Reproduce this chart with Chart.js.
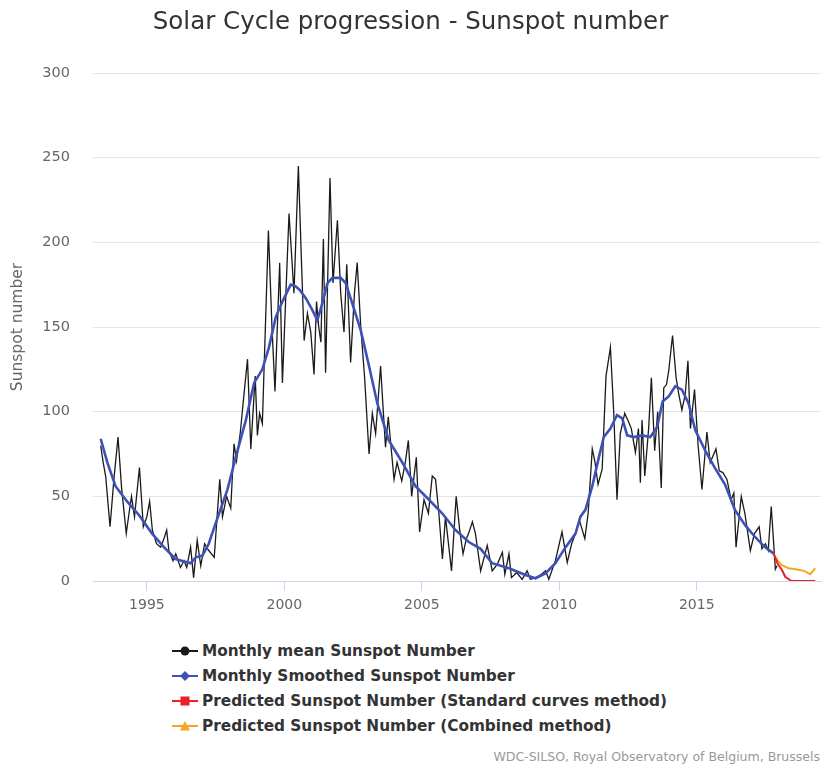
<!DOCTYPE html>
<html>
<head>
<meta charset="utf-8">
<title>Solar Cycle progression</title>
<script src="https://cdn.jsdelivr.net/npm/chart.js@4.4.1/dist/chart.umd.min.js"></script>
<style>
  html, body { margin: 0; padding: 0; background: #ffffff; }
  #wrap { position: relative; width: 822px; height: 765px; overflow: hidden; }
  #chart { position: absolute; left: 0; top: 0; }
  .legend { position: absolute; left: 172px; top: 640px; font-family: "DejaVu Sans", sans-serif; font-weight: bold; font-size: 15.3px; color: #333333; }
  .legend .row { height: 25px; line-height: 22px; white-space: nowrap; }
  .legend svg { vertical-align: middle; margin-right: 4px; position: relative; top: -1px; }
  .credits { position: absolute; right: 2px; top: 749px; font-family: "DejaVu Sans", sans-serif; font-size: 12.5px; color: #999999; }
</style>
</head>
<body>
<div id="wrap">
  <canvas id="chart" width="822" height="620"></canvas>
  <div class="legend" id="legend"></div>
  <div class="credits">WDC-SILSO, Royal Observatory of Belgium, Brussels</div>
</div>
<script>
// Values (decimal year, sunspot number)
var meanYears = [1993.32,1993.41,1993.50,1993.66,1993.80,1993.95,1994.08,1994.25,1994.35,1994.44,1994.55,1994.73,1994.87,1995.00,1995.10,1995.20,1995.35,1995.50,1995.60,1995.72,1995.80,1995.95,1996.05,1996.22,1996.35,1996.45,1996.59,1996.70,1996.83,1996.96,1997.10,1997.25,1997.45,1997.65,1997.75,1997.90,1998.05,1998.17,1998.26,1998.40,1998.50,1998.66,1998.78,1998.94,1999.02,1999.10,1999.20,1999.42,1999.55,1999.66,1999.83,1999.93,2000.17,2000.35,2000.51,2000.62,2000.72,2000.84,2000.96,2001.08,2001.17,2001.25,2001.33,2001.42,2001.50,2001.66,2001.77,2001.93,2002.05,2002.17,2002.27,2002.41,2002.55,2002.65,2002.78,2002.92,2003.08,2003.20,2003.32,2003.50,2003.60,2003.68,2003.78,2003.99,2004.10,2004.27,2004.40,2004.51,2004.63,2004.80,2004.92,2005.08,2005.24,2005.38,2005.50,2005.62,2005.75,2005.86,2006.08,2006.25,2006.38,2006.50,2006.62,2006.70,2006.84,2006.95,2007.14,2007.38,2007.56,2007.75,2007.93,2008.02,2008.17,2008.26,2008.45,2008.65,2008.83,2008.95,2009.15,2009.35,2009.50,2009.62,2009.86,2010.10,2010.29,2010.45,2010.59,2010.73,2010.93,2011.05,2011.20,2011.30,2011.41,2011.56,2011.70,2011.86,2011.98,2012.10,2012.22,2012.38,2012.52,2012.62,2012.77,2012.88,2012.95,2013.01,2013.11,2013.25,2013.35,2013.47,2013.58,2013.71,2013.80,2013.90,2013.98,2014.12,2014.25,2014.35,2014.46,2014.58,2014.68,2014.77,2014.92,2015.05,2015.19,2015.37,2015.49,2015.70,2015.82,2015.95,2016.10,2016.25,2016.35,2016.43,2016.62,2016.75,2016.95,2017.10,2017.27,2017.37,2017.50,2017.60,2017.71,2017.86,2017.92];
var meanValues = [80,70,62,32,60,85,55,28,40,50,38,67,32,38,47,30,22,20,24,30,18,12,16,8,12,8,20,2,24,9,22,18,14,60,38,50,43,81,71,88,105,131,78,121,86,99,93,207,150,112,188,117,217,170,245,190,142,158,147,122,165,150,141,202,123,238,176,213,170,147,187,129,170,188,150,120,75,99,87,127,100,79,97,60,70,59,70,83,50,73,29,48,40,62,60,40,13,38,6,50,30,16,25,28,35,28,6,21,6,10,17,4,16,2,5,1,6,1,2,4,6,1,12,29,11,22,28,36,25,40,78,70,57,66,121,138,100,48,87,99,94,90,76,90,58,95,62,90,120,77,100,55,114,116,124,145,120,110,101,110,130,90,113,80,54,88,70,78,65,64,60,48,52,20,50,40,18,28,32,19,22,18,44,7,9];

var smoothYears = [1993.32,1993.56,1993.86,1994.28,1994.71,1995.19,1995.62,1996.04,1996.59,1996.78,1997.02,1997.25,1997.50,1997.93,1998.23,1998.60,1998.90,1999.20,1999.44,1999.69,1999.93,2000.23,2000.41,2000.55,2000.78,2001.02,2001.20,2001.38,2001.57,2001.75,2002.05,2002.23,2002.47,2002.78,2003.08,2003.38,2003.80,2004.29,2004.77,2005.26,2005.74,2006.23,2006.71,2007.14,2007.56,2008.17,2008.77,2009.13,2009.50,2009.86,2010.23,2010.59,2010.77,2010.95,2011.20,2011.44,2011.62,2011.86,2012.10,2012.29,2012.47,2012.71,2013.01,2013.31,2013.56,2013.76,2013.98,2014.22,2014.46,2014.70,2014.95,2015.31,2015.67,2016.03,2016.39,2016.76,2017.12,2017.48,2017.79];
var smoothValues = [84,70,56,47,39,28,20,13,10.5,14,15,22,34,54,73,95,117,125,138,156,165,175,174,172,167,160,154,164,176,179,179,176,164,148,127,105,83,70,56,48,40,30,23,19,10.5,7.5,3.5,1.6,4.5,10.5,20,28,38,42,56,73,85,90,98,96,86,85,86,85,91,106,109,115,113,105,89,77,66.5,57,42,33,26,20,16.3];

var stdYears = [2017.79,2017.95,2018.10,2018.22,2018.44,2018.70,2019.00,2019.31];
var stdValues = [16.3,10,6.5,2.5,0,0,0,0];

var combYears = [2017.79,2017.95,2018.10,2018.34,2018.60,2018.90,2019.13,2019.31];
var combValues = [16.3,12,9.4,7.5,7,6,4,7.5];

var yearTicks = [1995, 2000, 2005, 2010, 2015];
var seriesNames = [
  'Monthly mean Sunspot Number',
  'Monthly Smoothed Sunspot Number',
  'Predicted Sunspot Number (Standard curves method)',
  'Predicted Sunspot Number (Combined method)'
];
var seriesColors = ['#1a1a1a', '#3f51b5', '#e8202a', '#f7a325'];
var seriesMarkers = ['circle', 'diamond', 'square', 'triangle'];

function pair(xs, ys) {
  return xs.map(function (x, i) { return { x: x, y: ys[i] }; });
}

var FONT = '"DejaVu Sans", "Lucida Grande", Arial, sans-serif';

var cfg = {
  type: 'line',
  data: {
    datasets: [
      { label: seriesNames[0], data: pair(meanYears, meanValues), borderColor: seriesColors[0], borderWidth: 1.3, order: 4 },
      { label: seriesNames[1], data: pair(smoothYears, smoothValues), borderColor: seriesColors[1], borderWidth: 2.6, order: 1 },
      { label: seriesNames[2], data: pair(stdYears, stdValues), borderColor: seriesColors[2], borderWidth: 2, order: 2 },
      { label: seriesNames[3], data: pair(combYears, combValues), borderColor: seriesColors[3], borderWidth: 2, order: 3 }
    ]
  },
  options: {
    responsive: false,
    animation: false,
    devicePixelRatio: 1,
    layout: { padding: { left: 0, right: 1, top: 0, bottom: 0 } },
    elements: { point: { radius: 0 }, line: { tension: 0, fill: false } },
    plugins: {
      legend: { display: false },
      tooltip: { enabled: false },
      title: {
        display: true,
        text: 'Solar Cycle progression - Sunspot number',
        color: '#333333',
        font: { family: FONT, size: 24.5, weight: 'normal' },
        padding: { top: 8, bottom: 35.6 }
      }
    },
    scales: {
      x: {
        type: 'linear',
        min: 1993.04,
        max: 2019.52,
        afterBuildTicks: function (scale) {
          scale.ticks = yearTicks.map(function (v) { return { value: v }; });
        },
        afterFit: function (scale) { scale.height = 39; },
        grid: { drawOnChartArea: false, drawTicks: true, tickLength: 10, color: '#ccd6eb' },
        border: { display: true, color: '#ccd6eb' },
        ticks: {
          color: '#666666',
          font: { family: FONT, size: 14 },
          padding: 6,
          maxRotation: 0,
          callback: function (v) { return String(v); }
        }
      },
      y: {
        min: 0,
        max: 300,
        afterFit: function (scale) { scale.width = 93; },
        grid: { color: '#e6e6e6', drawTicks: false },
        border: { display: false },
        ticks: {
          stepSize: 50,
          color: '#666666',
          font: { family: FONT, size: 14.5 },
          padding: 23
        },
        title: {
          display: true,
          text: 'Sunspot number',
          color: '#666666',
          font: { family: FONT, size: 15.5 },
          padding: { top: 9, bottom: 0 }
        }
      }
    }
  }
};

new Chart(document.getElementById('chart').getContext('2d'), cfg);

// HTML legend, one row per series with line + marker symbol
function markerSvg(color, shape) {
  var m;
  if (shape === 'circle') m = '<circle cx="13" cy="6" r="4.5" fill="' + color + '"/>';
  else if (shape === 'diamond') m = '<path d="M13 1 L18 6 L13 11 L8 6 Z" fill="' + color + '"/>';
  else if (shape === 'square') m = '<rect x="8.5" y="1.5" width="9" height="9" fill="' + color + '"/>';
  else m = '<path d="M13 1 L18 10.5 L8 10.5 Z" fill="' + color + '"/>';
  return '<svg width="26" height="12"><line x1="0" y1="6" x2="26" y2="6" stroke="' + color + '" stroke-width="2"/>' + m + '</svg>';
}
var legend = document.getElementById('legend');
seriesNames.forEach(function (name, i) {
  var row = document.createElement('div');
  row.className = 'row';
  row.innerHTML = markerSvg(seriesColors[i], seriesMarkers[i]);
  row.appendChild(document.createTextNode(name));
  legend.appendChild(row);
});
</script>
</body>
</html>
